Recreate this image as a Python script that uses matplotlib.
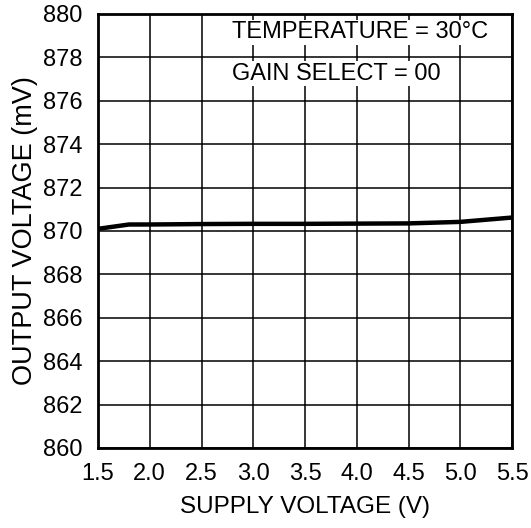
import matplotlib
matplotlib.use('Agg')
import matplotlib.pyplot as plt

supply_v = [1.5, 1.8, 2.0, 2.5, 3.0, 3.5, 4.0, 4.5, 5.0, 5.5]
output_mv = [870.1, 870.3, 870.3, 870.32, 870.33, 870.33, 870.34, 870.35, 870.42, 870.62]
xticks = [1.5, 2.0, 2.5, 3.0, 3.5, 4.0, 4.5, 5.0, 5.5]
yticks = list(range(860, 881, 2))

plt.rcParams['font.family'] = ['Liberation Sans', 'DejaVu Sans']

fig = plt.figure(figsize=(5.31, 5.28), dpi=100)
ax = fig.add_axes([98 / 531, 80 / 528, 414 / 531, 434 / 528])

ax.plot(supply_v, output_mv, color='black', linewidth=3.2, solid_capstyle='butt', zorder=4)

ax.set_xlim(1.5, 5.5)
ax.set_ylim(860, 880)
ax.set_xticks(xticks)
ax.set_xticklabels([f"{v:.1f}" for v in xticks])
ax.set_yticks(yticks)
ax.tick_params(length=0, labelsize=17)
ax.tick_params(axis='x', pad=11)
ax.tick_params(axis='y', pad=11)
ax.grid(True, color='black', linewidth=1.1)
for s in ax.spines.values():
    s.set_linewidth(2)

ax.set_xlabel("SUPPLY VOLTAGE (V)", fontsize=17.5, labelpad=8)
ax.set_ylabel("OUTPUT VOLTAGE (mV)", fontsize=19.5, labelpad=4)

box = dict(facecolor='white', edgecolor='none', pad=1)
ax.text(2.79, 879.15, "TEMPERATURE = 30°C", fontsize=17, ha='left', va='center', bbox=box, zorder=3)
ax.text(2.79, 877.25, "GAIN SELECT = 00", fontsize=17, ha='left', va='center', bbox=box, zorder=3)

fig.savefig("out.png", dpi=100)
